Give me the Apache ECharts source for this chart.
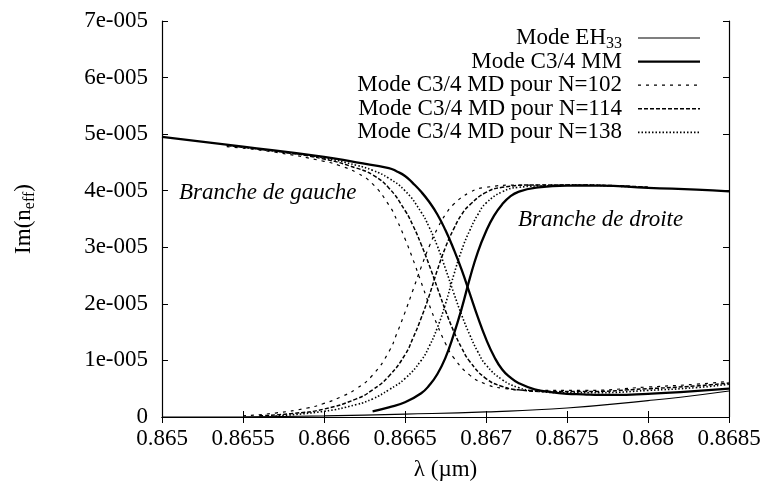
<!DOCTYPE html>
<html>
<head>
<meta charset="utf-8">
<script src="https://cdn.jsdelivr.net/npm/echarts@6/dist/echarts.min.js"></script>
<style>
  html, body { margin: 0; padding: 0; background: #ffffff; }
  #chart { width: 767px; height: 490px; }
</style>
</head>
<body>
<div id="chart"></div>
<script>
// Imaginary part of the effective index versus wavelength (values in units of 1e-5)
const UNIT = 1e-5;

const xTickLabels = ['0.865', '0.8655', '0.866', '0.8665', '0.867', '0.8675', '0.868', '0.8685'];
const yTickLabels = ['0', '1e-005', '2e-005', '3e-005', '4e-005', '5e-005', '6e-005', '7e-005'];

// Mode EH33
const eh33Lambda = [0.865, 0.8655, 0.866, 0.8665, 0.867, 0.8675, 0.868, 0.8682, 0.8685];
const eh33Im     = [0.0,   0.005,  0.02,  0.05,   0.09,  0.16,   0.29,  0.35,   0.46];

// Mode C3/4 MM, left branch
const mmLeftLambda = [0.865, 0.8655, 0.866, 0.8662, 0.8664, 0.86645, 0.8665, 0.86655, 0.8666, 0.86665, 0.8667, 0.86675, 0.8668, 0.86685, 0.8669, 0.86695, 0.867, 0.86705, 0.8671, 0.86715, 0.8672, 0.8673, 0.8674, 0.8675, 0.8676, 0.8677, 0.8678, 0.868, 0.8682, 0.8685];
const mmLeftIm     = [4.95,  4.78,   4.60,  4.50,   4.40,   4.34,    4.26,   4.13,    3.98,   3.80,    3.58,   3.30,    2.97,   2.60,    2.18,   1.76,    1.38,  1.07,    0.84,   0.70,    0.60,   0.49,   0.44,   0.41,   0.40,   0.39,   0.39,   0.41,  0.44,   0.50];

// Mode C3/4 MM, right branch
const mmRightLambda = [0.8663, 0.8664, 0.8665, 0.8666, 0.86665, 0.8667, 0.86675, 0.8668, 0.86685, 0.8669, 0.86695, 0.867, 0.86705, 0.8671, 0.86715, 0.8672, 0.8673, 0.8675, 0.8677, 0.868, 0.8683, 0.8685];
const mmRightIm     = [0.10,   0.17,   0.26,   0.42,   0.56,    0.76,   1.05,    1.45,   1.92,    2.45,   2.92,    3.28,  3.56,    3.76,   3.90,    3.98,   4.05,   4.09,   4.09,   4.05,  4.02,   3.99];

// Mode C3/4 MD, N = 102
const n102LeftLambda = [0.8654, 0.8657, 0.866, 0.8661, 0.8662, 0.8663, 0.8664, 0.86645, 0.8665, 0.86655, 0.8666, 0.86665, 0.8667, 0.86675, 0.8668, 0.8669, 0.867, 0.8671, 0.8673, 0.8676, 0.868, 0.8683, 0.8685];
const n102LeftIm     = [4.78,   4.68,   4.52,  4.44,   4.32,   4.12,   3.75,   3.48,    3.15,   2.78,    2.38,   1.98,    1.62,   1.30,    1.05,   0.74,   0.58,  0.51,   0.47,   0.47,   0.53,  0.58,   0.63];
const n102RightLambda = [0.8655, 0.8657, 0.8659, 0.866, 0.8661, 0.8662, 0.8663, 0.8664, 0.86645, 0.8665, 0.86655, 0.8666, 0.86665, 0.8667, 0.86675, 0.8668, 0.8669, 0.867, 0.8672, 0.8675, 0.868];
const n102RightIm     = [0.02,   0.07,   0.16,   0.24,  0.35,   0.50,   0.74,   1.15,   1.48,    1.85,   2.25,    2.65,   3.02,    3.33,   3.58,    3.76,   3.97,   4.06,  4.10,   4.10,   4.06];

// Mode C3/4 MD, N = 114
const n114LeftLambda = [0.8654, 0.8657, 0.866, 0.8662, 0.8663, 0.8664, 0.8665, 0.86655, 0.8666, 0.86665, 0.8667, 0.86675, 0.8668, 0.86685, 0.8669, 0.867, 0.8671, 0.8672, 0.8674, 0.8676, 0.868, 0.8683, 0.8685];
const n114LeftIm     = [4.80,   4.70,   4.56,  4.40,   4.28,   4.05,   3.65,   3.38,    3.05,   2.68,    2.28,   1.88,    1.52,   1.22,    0.98,   0.68,  0.54,   0.48,   0.45,   0.45,   0.50,  0.55,   0.60];
const n114RightLambda = [0.8656, 0.8658, 0.866, 0.8662, 0.8663, 0.8664, 0.8665, 0.86655, 0.8666, 0.86665, 0.8667, 0.86675, 0.8668, 0.86685, 0.8669, 0.867, 0.8671, 0.8673, 0.8676, 0.868];
const n114RightIm     = [0.02,   0.06,   0.14,  0.32,   0.48,   0.72,   1.10,   1.40,    1.75,   2.15,    2.60,   3.00,    3.32,   3.58,    3.75,   3.97,  4.06,   4.10,   4.10,   4.06];

// Mode C3/4 MD, N = 138
const n138LeftLambda = [0.8654, 0.8657, 0.866, 0.8662, 0.8663, 0.8664, 0.8665, 0.8666, 0.86665, 0.8667, 0.86675, 0.8668, 0.86685, 0.8669, 0.86695, 0.867, 0.8671, 0.8672, 0.8673, 0.8675, 0.8677, 0.868, 0.8683, 0.8685];
const n138LeftIm     = [4.80,   4.70,   4.58,  4.45,   4.36,   4.22,   4.00,   3.62,   3.35,    3.02,   2.62,    2.20,   1.80,    1.45,   1.15,    0.92,  0.66,   0.52,   0.46,   0.43,   0.43,   0.47,  0.52,   0.58];
const n138RightLambda = [0.8657, 0.866, 0.8662, 0.8663, 0.8664, 0.8665, 0.8666, 0.86665, 0.8667, 0.86675, 0.8668, 0.86685, 0.8669, 0.86695, 0.867, 0.8671, 0.8672, 0.8674, 0.8676, 0.8678, 0.868];
const n138RightIm     = [0.02,   0.10,  0.22,   0.32,   0.48,   0.68,   1.00,   1.25,    1.58,   2.00,    2.50,   2.95,    3.30,   3.58,    3.78,  3.98,   4.06,   4.09,   4.10,   4.08,   4.06];

const FONT = 'Liberation Serif';
const INK = '#000000';

// Line styles shared by the curves and the key
const styles = {
  eh33: { color: INK, width: 1.1, type: 'solid' },
  mm:   { color: INK, width: 2.3, type: 'solid' },
  n102: { color: INK, width: 1.2, type: [3, 5] },
  n114: { color: INK, width: 1.5, type: [4, 2] },
  n138: { color: INK, width: 1.6, type: [1.5, 2] }
};

function pairs(xs, ys) {
  return xs.map((x, i) => [x, ys[i] * UNIT]);
}

function curve(name, xs, ys, style) {
  return {
    name: name,
    type: 'line',
    data: pairs(xs, ys),
    showSymbol: false,
    symbol: 'none',
    smooth: 0.5,
    lineStyle: style,
    silent: true,
    animation: false,
    clip: true
  };
}

const series = [
  curve('eh33', eh33Lambda, eh33Im, styles.eh33),
  curve('n102a', n102LeftLambda, n102LeftIm, styles.n102),
  curve('n102b', n102RightLambda, n102RightIm, styles.n102),
  curve('n114a', n114LeftLambda, n114LeftIm, styles.n114),
  curve('n114b', n114RightLambda, n114RightIm, styles.n114),
  curve('n138a', n138LeftLambda, n138LeftIm, styles.n138),
  curve('n138b', n138RightLambda, n138RightIm, styles.n138),
  curve('mma', mmLeftLambda, mmLeftIm, styles.mm),
  curve('mmb', mmRightLambda, mmRightIm, styles.mm)
];

const keyEntries = [
  { text: 'Mode EH{sub|33}', style: styles.eh33 },
  { text: 'Mode C3/4 MM', style: styles.mm },
  { text: 'Mode C3/4 MD pour N=102', style: styles.n102 },
  { text: 'Mode C3/4 MD pour N=114', style: styles.n114 },
  { text: 'Mode C3/4 MD pour N=138', style: styles.n138 }
];

const keyTop = 38, keyStep = 23.6, keyTextRight = 622, keyLineX0 = 638, keyLineX1 = 700;
const keyGraphics = [];
keyEntries.forEach((e, i) => {
  const y = keyTop + i * keyStep;
  keyGraphics.push({
    type: 'text', x: keyTextRight, y: y, silent: true,
    style: {
      text: e.text, fill: INK, font: '23px "' + FONT + '"',
      textAlign: 'right', textVerticalAlign: 'middle',
      rich: { sub: { fontSize: 16, fontFamily: FONT, fill: INK, padding: [12, 0, 0, 0] } }
    }
  });
  keyGraphics.push({
    type: 'line', silent: true,
    shape: { x1: keyLineX0, y1: y, x2: keyLineX1, y2: y },
    style: { stroke: INK, lineWidth: e.style.width, lineDash: e.style.type === 'solid' ? null : e.style.type }
  });
});

const branchLabels = [
  { text: 'Branche de gauche', x: 179, y: 193 },
  { text: 'Branche de droite', x: 518, y: 220 }
];
branchLabels.forEach(b => {
  keyGraphics.push({
    type: 'text', x: b.x, y: b.y, silent: true,
    style: { text: b.text, fill: INK, font: 'italic 23px "' + FONT + '"', textAlign: 'left', textVerticalAlign: 'middle' }
  });
});

const X_MIN = 0.865, X_MAX = 0.8685, X_STEP = 0.0005;
const Y_MIN = 0, Y_MAX = 7 * UNIT, Y_STEP = UNIT;

const axisCommon = {
  axisLine: { show: true, lineStyle: { color: INK, width: 1.2 } },
  axisTick: { show: true, inside: true, length: 6, lineStyle: { color: INK, width: 1 } },
  splitLine: { show: false }
};

const option = {
  backgroundColor: '#ffffff',
  animation: false,
  grid: { left: 162, right: 38, top: 21, bottom: 73, containLabel: false },
  xAxis: [
    Object.assign({
      type: 'value', min: X_MIN, max: X_MAX, interval: X_STEP, position: 'bottom',
      name: 'λ (µm)', nameLocation: 'middle', nameGap: 41,
      nameTextStyle: { color: INK, fontFamily: FONT, fontSize: 23 },
      axisLabel: {
        color: INK, fontFamily: FONT, fontSize: 23, margin: 10,
        formatter: v => xTickLabels[Math.round((v - X_MIN) / X_STEP)]
      }
    }, axisCommon),
    Object.assign({
      type: 'value', min: X_MIN, max: X_MAX, interval: X_STEP, position: 'top',
      axisLabel: { show: false }
    }, axisCommon)
  ],
  yAxis: [
    Object.assign({
      type: 'value', min: Y_MIN, max: Y_MAX, interval: Y_STEP, position: 'left',
      name: 'Im(n{sub|eff})', nameLocation: 'middle', nameGap: 124, nameRotate: 90,
      nameTextStyle: {
        color: INK, fontFamily: FONT, fontSize: 23,
        rich: { sub: { fontSize: 16, fontFamily: FONT, color: INK, padding: [12, 0, 0, 0] } }
      },
      axisLabel: {
        color: INK, fontFamily: FONT, fontSize: 23, margin: 14,
        formatter: v => yTickLabels[Math.round(v / Y_STEP)]
      }
    }, axisCommon),
    Object.assign({
      type: 'value', min: Y_MIN, max: Y_MAX, interval: Y_STEP, position: 'right',
      axisLabel: { show: false }
    }, axisCommon)
  ],
  series: series,
  graphic: keyGraphics
};

const chart = echarts.init(document.getElementById('chart'), null, { renderer: 'canvas' });
chart.setOption(option);
</script>
</body>
</html>
